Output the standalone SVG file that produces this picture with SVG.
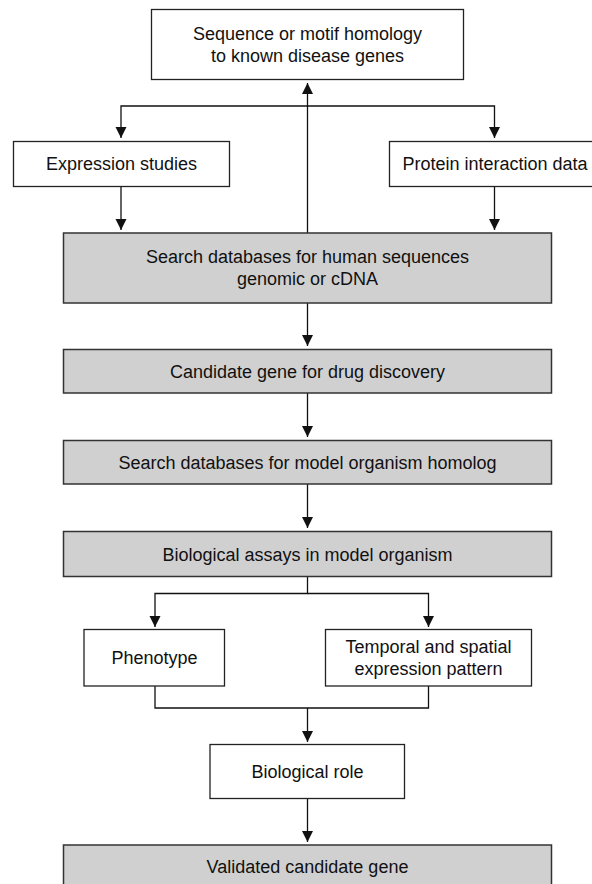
<svg xmlns="http://www.w3.org/2000/svg" width="592" height="884" viewBox="0 0 592 884">
<style>
.box{fill:#ffffff;stroke:#222;stroke-width:1.3}
.gbox{fill:#d0d0d0;stroke:#333;stroke-width:1.5}
.t{font-family:"Liberation Sans",Arial,sans-serif;font-size:18px;fill:#111;text-anchor:middle}
.c{fill:none;stroke:#111;stroke-width:1.3}
</style>
<defs>
<marker id="ah" markerUnits="userSpaceOnUse" markerWidth="12" markerHeight="12" refX="11" refY="5.5" orient="auto">
<path d="M0,0 L11,5.5 L0,11 z" fill="#111"/>
</marker>
</defs>
<rect width="592" height="884" fill="#ffffff"/>
<g id="connectors">
<path class="c" d="M307.5,233 V83" marker-end="url(#ah)"/>
<path class="c" d="M307.5,106 H121 V138" marker-end="url(#ah)"/>
<path class="c" d="M307.5,106 H494.5 V138" marker-end="url(#ah)"/>
<path class="c" d="M121,186 V230" marker-end="url(#ah)"/>
<path class="c" d="M494.5,186 V230" marker-end="url(#ah)"/>
<path class="c" d="M307.5,303 V346" marker-end="url(#ah)"/>
<path class="c" d="M307.5,393 V437" marker-end="url(#ah)"/>
<path class="c" d="M307.5,484 V528" marker-end="url(#ah)"/>
<path class="c" d="M307.5,577 V593.5 H155 V627" marker-end="url(#ah)"/>
<path class="c" d="M307.5,593.5 H428.5 V627" marker-end="url(#ah)"/>
<path class="c" d="M155,686 V708 H428.5 V686"/>
<path class="c" d="M307.5,708 V742" marker-end="url(#ah)"/>
<path class="c" d="M307.5,798 V842" marker-end="url(#ah)"/>
</g>
<g id="n-homology">
<rect class="box" x="151.5" y="9.5" width="312" height="70"/>
<text class="t" x="307.5" y="39.5">Sequence or motif homology</text>
<text class="t" x="307.5" y="61.5">to known disease genes</text>
</g>
<g id="n-expression">
<rect class="box" x="13.5" y="141.5" width="216" height="45"/>
<text class="t" x="121.5" y="170">Expression studies</text>
</g>
<g id="n-protein">
<rect class="box" x="389.5" y="141.5" width="216" height="45"/>
<text class="t" x="495" y="170">Protein interaction data</text>
</g>
<g id="n-search-human">
<rect class="gbox" x="63.5" y="233" width="488" height="70"/>
<text class="t" x="307.5" y="263">Search databases for human sequences</text>
<text class="t" x="307.5" y="285">genomic or cDNA</text>
</g>
<g id="n-candidate">
<rect class="gbox" x="63.5" y="349.5" width="488" height="43.5"/>
<text class="t" x="307.5" y="377.5">Candidate gene for drug discovery</text>
</g>
<g id="n-search-model">
<rect class="gbox" x="63.5" y="440.5" width="488" height="43.5"/>
<text class="t" x="307.5" y="468.5">Search databases for model organism homolog</text>
</g>
<g id="n-assays">
<rect class="gbox" x="63.5" y="531.5" width="488" height="45"/>
<text class="t" x="307.5" y="560.5">Biological assays in model organism</text>
</g>
<g id="n-phenotype">
<rect class="box" x="84" y="629.5" width="140.5" height="56.5"/>
<text class="t" x="154.5" y="664">Phenotype</text>
</g>
<g id="n-temporal">
<rect class="box" x="325.5" y="629.5" width="206" height="56.5"/>
<text class="t" x="428.5" y="652.5">Temporal and spatial</text>
<text class="t" x="428.5" y="675">expression pattern</text>
</g>
<g id="n-role">
<rect class="box" x="210" y="744.5" width="194.5" height="54"/>
<text class="t" x="307.5" y="777.5">Biological role</text>
</g>
<g id="n-validated">
<rect class="gbox" x="63.5" y="845" width="488" height="50"/>
<text class="t" x="307.5" y="873">Validated candidate gene</text>
</g>
</svg>
